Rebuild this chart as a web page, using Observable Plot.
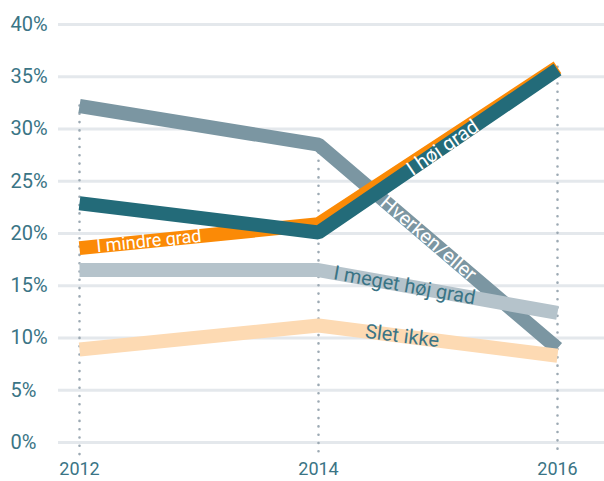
<!DOCTYPE html>
<html><head><meta charset="utf-8">
<script src="https://cdn.jsdelivr.net/npm/d3@7"></script>
<script src="https://cdn.jsdelivr.net/npm/@observablehq/plot@0.6"></script>
<style>html,body{margin:0;padding:0;background:#fff;} svg{display:block}</style>
</head><body><div id="chart"></div>
<script>
// ---- data ----
const years = [2012, 2014, 2016];
const hverkenEller = [32.2, 28.5, 9.0];
const iMindreGrad = [18.6, 20.9, 35.9];
const iHojGrad = [22.9, 20.1, 35.7];
const iMegetHojGrad = [16.5, 16.5, 12.4];
const sletIkke = [8.9, 11.2, 8.3];
const yTicks = [0, 5, 10, 15, 20, 25, 30, 35, 40];
const xTicks = [2012, 2014, 2016];

// ---- layout ----
const W = 604, H = 481;
const mL = 58, mR = 0, mT = 24, mB = 39, inL = 21, inR = 47;
const kx = (W - mL - mR - inL - inR) / (years[2] - years[0]);
const ky = (H - mT - mB) / 40;
const FONT = "Roboto, 'DejaVu Sans', sans-serif";
const TEAL_TEXT = "#3a7485";

const series = [
  {name: "Hverken/eller", values: hverkenEller, color: "#7b96a2", seg: 1, t: 0.46, text: "#ffffff", size: 20},
  {name: "I mindre grad", values: iMindreGrad, color: "#fb8a06", seg: 0, t: 0.29, text: "#ffffff", size: 18},
  {name: "I høj grad", values: iHojGrad, color: "#236b79", seg: 1, t: 0.52, text: "#ffffff", size: 20},
  {name: "I meget høj grad", values: iMegetHojGrad, color: "#b5c3cb", seg: 1, t: 0.36, text: TEAL_TEXT, size: 20},
  {name: "Slet ikke", values: sletIkke, color: "#fddab3", seg: 1, t: 0.35, text: TEAL_TEXT, size: 20}
];

function rows(s) { return years.map((y, i) => ({year: y, value: s.values[i], series: s.name})); }
function label(s) {
  const i = s.seg;
  const x0 = years[i], x1 = years[i + 1], v0 = s.values[i], v1 = s.values[i + 1];
  const angle = Math.atan2(-(v1 - v0) * ky, (x1 - x0) * kx) * 180 / Math.PI;
  return {year: x0 + s.t * (x1 - x0), value: v0 + s.t * (v1 - v0), name: s.name, angle};
}

const maxByYear = years.map((y, i) => ({year: y, top: Math.max(...series.map(s => s.values[i]))}));

const marks = [
  Plot.ruleY(yTicks, {stroke: "#e4e8ec", strokeWidth: 3}),
  Plot.ruleX(maxByYear, {x: "year", y1: "top", y2: -1.2, stroke: "#9ca9b3", strokeWidth: 2.6,
    strokeDasharray: "0 8.3", strokeLinecap: "round"}),
];
for (const s of series) {
  marks.push(Plot.line(rows(s), {x: "year", y: "value", stroke: s.color, strokeWidth: 14,
    strokeLinejoin: "miter", strokeLinecap: "butt", curve: "linear"}));
}
for (const s of series) {
  const l = label(s);
  marks.push(Plot.text([l], {x: "year", y: "value", text: "name", rotate: l.angle, fill: s.text,
    fontSize: s.size, fontFamily: FONT, textAnchor: "middle", lineAnchor: "middle"}));
}
marks.push(Plot.axisY(yTicks, {tickSize: 0, tickPadding: 48, textAnchor: "start",
  tickFormat: d => d + "%", fontSize: 20, fontFamily: FONT, fill: TEAL_TEXT, label: null}));
marks.push(Plot.axisX(xTicks, {tickSize: 0, tickPadding: 20, tickFormat: d => String(d),
  fontSize: 18, fontFamily: FONT, fill: TEAL_TEXT, label: null}));

const chart = Plot.plot({
  width: W, height: H,
  marginLeft: mL, marginRight: mR, marginTop: mT, marginBottom: mB,
  style: {fontFamily: FONT, background: "#fff"},
  x: {domain: [2012, 2016], insetLeft: inL, insetRight: inR},
  y: {domain: [0, 40]},
  marks
});
document.getElementById("chart").appendChild(chart);
</script>
</body></html>
